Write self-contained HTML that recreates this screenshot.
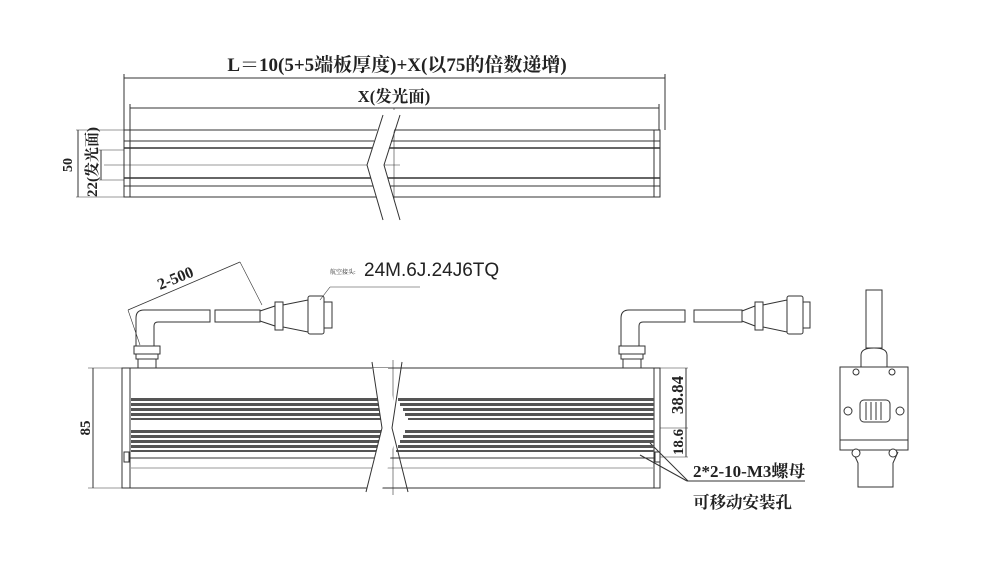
<!DOCTYPE html>
<html><head><meta charset="utf-8"><style>
html,body{margin:0;padding:0;background:#fff;}
svg{display:block;}
text{font-family:"Liberation Serif","Noto Serif CJK SC",serif;font-weight:bold;fill:#222;}
</style></head><body>
<svg width="1007" height="566" viewBox="0 0 1007 566" xmlns="http://www.w3.org/2000/svg">
<g fill="none" stroke="#333" stroke-width="1">
<line x1="124" y1="78" x2="665" y2="78"/>
<line x1="124" y1="74" x2="124" y2="130"/><line x1="665" y1="74" x2="665" y2="130"/>
<line x1="130" y1="108" x2="659" y2="108"/>
<line x1="130" y1="104" x2="130" y2="130"/><line x1="659" y1="104" x2="659" y2="130"/>
<rect x="124" y="130" width="536" height="67"/>
<line x1="130" y1="130" x2="130" y2="197"/><line x1="654" y1="130" x2="654" y2="197"/>
<line x1="124" y1="141" x2="660" y2="141"/><line x1="124" y1="148" x2="660" y2="148" stroke-width="1.5"/>
<line x1="124" y1="178" x2="660" y2="178" stroke-width="1.5"/><line x1="124" y1="186" x2="660" y2="186"/>
<line x1="104" y1="165" x2="400" y2="165" stroke-width="0.6"/>
<line x1="394" y1="108" x2="394" y2="222" stroke-width="0.6"/>
<line x1="76" y1="130" x2="124" y2="130" stroke-width="0.6"/><line x1="76" y1="197" x2="124" y2="197" stroke-width="0.6"/>
<line x1="78" y1="130" x2="78" y2="197"/>
<line x1="99" y1="150" x2="124" y2="150" stroke-width="0.6"/><line x1="99" y1="180" x2="124" y2="180" stroke-width="0.6"/>
<line x1="101" y1="150" x2="101" y2="180"/>
<rect x="122" y="368" width="538" height="120"/>
<line x1="130" y1="368" x2="130" y2="488"/><line x1="654" y1="368" x2="654" y2="488"/>
<line x1="130" y1="458" x2="654" y2="458"/><line x1="130" y1="468" x2="654" y2="468" stroke="#999"/>
<line x1="88" y1="368" x2="122" y2="368" stroke-width="0.6"/><line x1="88" y1="488" x2="122" y2="488" stroke-width="0.6"/>
<line x1="93" y1="368" x2="93" y2="488"/>
<line x1="393" y1="360" x2="393" y2="495" stroke-width="0.6"/>
<rect x="124" y="452" width="5" height="10"/><rect x="655" y="452" width="5" height="10"/>
<line x1="660" y1="368" x2="688" y2="368" stroke-width="0.6"/>
<line x1="660" y1="428" x2="688" y2="428" stroke-width="0.6"/>
<line x1="660" y1="457" x2="688" y2="457" stroke-width="0.6"/>
<line x1="686" y1="368" x2="686" y2="457"/>
<line x1="650" y1="443" x2="688" y2="481"/><line x1="640" y1="455" x2="687" y2="481"/>
<line x1="687" y1="481" x2="805" y2="481"/>
</g>
<g fill="#555">
<rect x="131" y="398" width="255" height="3"/><rect x="131" y="403" width="257" height="3"/><rect x="131" y="408" width="260" height="3"/><rect x="131" y="413" width="262" height="3"/><rect x="131" y="418" width="265" height="2"/>
<rect x="131" y="430" width="262" height="3"/><rect x="131" y="435" width="260" height="3"/><rect x="131" y="440" width="258" height="3"/><rect x="131" y="445" width="255" height="3"/><rect x="131" y="450" width="253" height="2"/>
<rect x="398" y="398" width="256" height="3"/><rect x="400" y="403" width="254" height="3"/><rect x="403" y="408" width="251" height="3"/><rect x="405" y="413" width="249" height="3"/><rect x="408" y="418" width="246" height="2"/>
<rect x="405" y="430" width="249" height="3"/><rect x="403" y="435" width="251" height="3"/><rect x="400" y="440" width="254" height="3"/><rect x="398" y="445" width="256" height="3"/><rect x="396" y="450" width="258" height="2"/>
</g>
<polygon points="383,110 400,110 384,165 400,222 383,222 367,165" fill="#fff"/>
<polyline points="383,115 367,165 383,220" fill="none" stroke="#333"/>
<polyline points="400,115 384,165 400,220" fill="none" stroke="#333"/>
<polygon points="372,368 388,368 398,428 382,490 366,490 382,428" fill="#fff"/>
<polyline points="372,362 382,428 366,492" fill="none" stroke="#333"/>
<polyline points="402,362 392,428 408,492" fill="none" stroke="#333"/>
<g fill="#fff" stroke="#333" stroke-width="1">
<path d="M136,347 L136,318 Q136,310 144,310 L210,310 L210,322 L158,322 Q154,322 154,326 L154,347"/>
<rect x="134" y="346" width="26" height="8"/><rect x="136" y="354" width="22" height="5"/><rect x="138" y="359" width="18" height="9"/>
<rect x="215" y="310" width="45" height="12"/>
<polygon points="260,311 275,306 275,326 260,321"/><rect x="275" y="302" width="8" height="28"/>
<polygon points="283,305 308,300 308,332 283,327"/>
<rect x="308" y="296" width="16" height="38" rx="2"/><rect x="324" y="302" width="8" height="26"/>
<path d="M621,347 L621,318 Q621,310 629,310 L685,310 L685,322 L643,322 Q639,322 639,326 L639,347"/>
<rect x="619" y="346" width="26" height="8"/><rect x="621" y="354" width="22" height="5"/><rect x="623" y="359" width="18" height="9"/>
<rect x="694" y="310" width="48" height="12"/>
<polygon points="742,311 755,306 755,326 742,321"/><rect x="755" y="302" width="8" height="28"/>
<polygon points="763,305 787,300 787,332 763,327"/>
<rect x="787" y="296" width="16" height="38" rx="2"/><rect x="803" y="302" width="7" height="26"/>
<rect x="866" y="290" width="16" height="58"/>
<path d="M861,367 L861,355 Q861,348 874,348 Q887,348 887,355 L887,367"/>
<rect x="840" y="367" width="68" height="83"/>
<line x1="840" y1="440" x2="908" y2="440"/>
<path d="M853,452 L858,463 L858,487 L893,487 L893,463 L898,452"/>
<rect x="860" y="400" width="30" height="22" rx="4"/>
<circle cx="856" cy="372" r="3"/><circle cx="892" cy="372" r="3"/>
<circle cx="848" cy="411" r="4"/><circle cx="900" cy="411" r="4"/>
<circle cx="856" cy="453" r="4"/><circle cx="893" cy="453" r="4"/>
</g>
<g stroke="#333" stroke-width="1">
<line x1="866" y1="402" x2="866" y2="420"/><line x1="871" y1="402" x2="871" y2="420"/><line x1="876" y1="402" x2="876" y2="420"/><line x1="881" y1="402" x2="881" y2="420"/>
<line x1="128" y1="310" x2="240" y2="262" stroke-width="0.8"/>
<line x1="128" y1="310" x2="140" y2="345" stroke-width="0.6"/>
<line x1="240" y1="262" x2="262" y2="305" stroke-width="0.6"/>
<line x1="320" y1="300" x2="330" y2="287" stroke-width="0.6"/>
<line x1="330" y1="287" x2="420" y2="287" stroke-width="0.6"/>
</g>
<text x="397" y="71" font-size="19" text-anchor="middle">L＝10(5+5端板厚度)+X(以75的倍数递增)</text>
<text x="394" y="102" font-size="16.5" text-anchor="middle">X(发光面)</text>
<text transform="translate(72,165) rotate(-90)" font-size="14" text-anchor="middle">50</text>
<text transform="translate(97,162) rotate(-90)" font-size="15" text-anchor="middle">22(发光面)</text>
<text transform="translate(90,428) rotate(-90)" font-size="15" text-anchor="middle">85</text>
<text transform="translate(160,290) rotate(-22)" font-size="16">2-500</text>
<text x="330" y="274" font-size="6" style="font-weight:normal">航空接头:</text>
<text x="364" y="276" font-size="19" style="font-family:'Liberation Sans',sans-serif;font-weight:normal">24M.6J.24J6TQ</text>
<text transform="translate(683,395) rotate(-90)" font-size="17" text-anchor="middle">38.84</text>
<text transform="translate(683,442) rotate(-90)" font-size="15" text-anchor="middle">18.6</text>
<text x="693" y="477" font-size="17">2*2-10-M3螺母</text>
<text x="693" y="508" font-size="16.5">可移动安装孔</text>
</svg>
</body></html>
